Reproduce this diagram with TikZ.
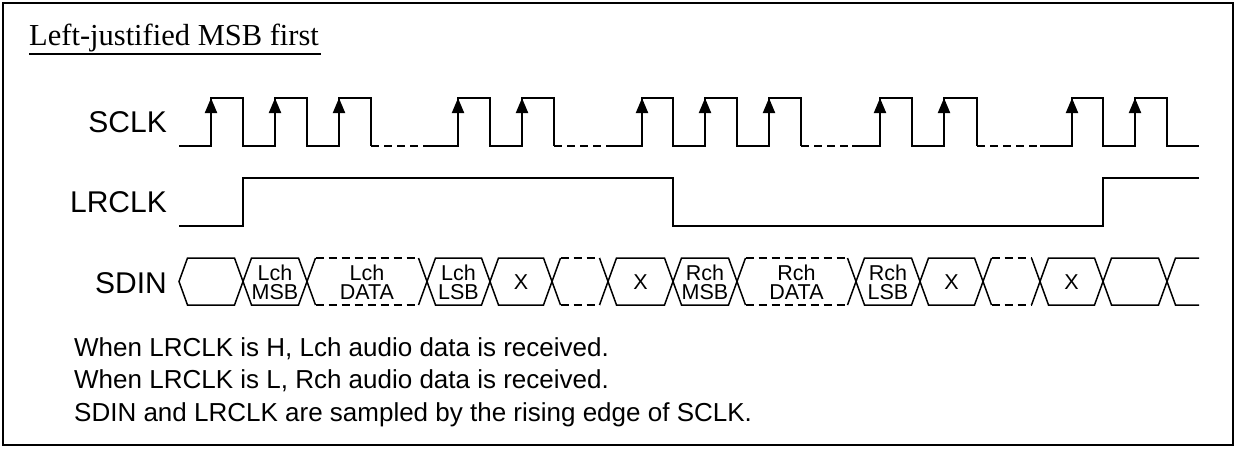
\documentclass[tikz,border=0pt]{standalone}
\usepackage{fontspec}
\setmainfont{Liberation Serif}
\setsansfont{Liberation Sans}
\usetikzlibrary{arrows.meta}
\usetikzlibrary{decorations.markings}
\tikzset{up/.style = {decoration={markings,
                                  mark=at position 1 with {\arrow{Triangle[width=12pt,length=15pt]}}},
                      postaction={decorate}}}
\tikzset{clk/.style = {line width=2pt}}
\tikzset{bus/.style = {line width=1.5pt}}
\tikzset{gap/.style = {dash pattern=on 8pt off 5pt}}
\tikzset{sig/.style = {anchor=east, inner sep=0, font=\sffamily\fontsize{30}{36}\selectfont}}
\tikzset{cell/.style = {inner sep=0, align=center, font=\sffamily\fontsize{21.5}{19}\selectfont}}
\tikzset{note/.style = {anchor=base west, inner sep=0, font=\sffamily\fontsize{26}{31}\selectfont}}

\begin{document}
\begin{tikzpicture}[x=1pt, y=-1pt]
    \useasboundingbox (0,0) rectangle (1236,448);
    \draw [line width=2pt] (3,3) rectangle (1233,445);

    \node [anchor=base west, inner sep=0, font=\rmfamily\fontsize{30.5}{36}\selectfont] (title) at (29,45) {Left-justified MSB first};
    \draw [line width=1.2pt] ([yshift=-9pt]title.base west) -- ([xshift=2pt, yshift=-9pt]title.base east);

    \node [sig] (sclk) at (167,122) {SCLK};
    \node [sig] (lrclk) at (167,202) {LRCLK};
    \node [sig] (sdin) at (167,283) {SDIN};

    % SCLK
    \draw [clk] (179,146) -- (211,146) -- (211,98) -- (243,98) -- (243,146) -- (275,146) -- (275,98) -- (307,98)
        -- (307,146) -- (339,146) -- (339,98) -- (371,98) -- (371,146);
    \draw [clk, gap] (371,146) -- (427,146);
    \draw [clk] (427,146) -- (458,146) -- (458,98) -- (490,98) -- (490,146) -- (522,146) -- (522,98) -- (554,98) -- (554,146);
    \draw [clk, gap] (554,146) -- (610,146);
    \draw [clk] (610,146) -- (642,146) -- (642,98) -- (673,98) -- (673,146) -- (705,146) -- (705,98) -- (737,98)
        -- (737,146) -- (769,146) -- (769,98) -- (801,98) -- (801,146);
    \draw [clk, gap] (801,146) -- (852,146);
    \draw [clk] (852,146) -- (880,146) -- (880,98) -- (912,98) -- (912,146) -- (944,146) -- (944,98) -- (977,98) -- (977,146);
    \draw [clk, gap] (977,146) -- (1040,146);
    \draw [clk] (1040,146) -- (1072,146) -- (1072,98) -- (1103,98) -- (1103,146) -- (1135,146) -- (1135,98) -- (1167,98)
        -- (1167,146) -- (1199,146);

    \draw [clk, up] (211,146) -- (211,98);
    \draw [clk, up] (275,146) -- (275,98);
    \draw [clk, up] (339,146) -- (339,98);
    \draw [clk, up] (458,146) -- (458,98);
    \draw [clk, up] (522,146) -- (522,98);
    \draw [clk, up] (642,146) -- (642,98);
    \draw [clk, up] (705,146) -- (705,98);
    \draw [clk, up] (769,146) -- (769,98);
    \draw [clk, up] (880,146) -- (880,98);
    \draw [clk, up] (944,146) -- (944,98);
    \draw [clk, up] (1072,146) -- (1072,98);
    \draw [clk, up] (1135,146) -- (1135,98);

    % LRCLK
    \draw [clk] (179,226) -- (243,226) -- (243,178) -- (673,178) -- (673,226) -- (1103,226) -- (1103,178) -- (1199,178);

    % SDIN
    \foreach \a/\b/\txt in {179/243/{}, 243/307/{Lch\\MSB}, 427/490/{Lch\\LSB}, 490/552/X, 608/673/X,
                            673/737/{Rch\\MSB}, 856/920/{Rch\\LSB}, 920/983/X, 1040/1103/X, 1103/1167/{}}
    {
        \draw [bus] (\a,281.5) -- ({\a+8.5},258) -- ({\b-8.5},258) -- (\b,281.5) -- ({\b-8.5},305) -- ({\a+8.5},305) -- cycle;
        \node [cell] (d\a) at ({(\a+\b)/2},282) {\txt};
    }
    \foreach \a/\b/\txt in {307/427/{Lch\\DATA}, 552/608/{}, 737/856/{Rch\\DATA}, 983/1040/{}}
    {
        \draw [bus] ({\a+8.5},258) -- (\a,281.5) -- ({\a+8.5},305);
        \draw [bus] ({\b-8.5},258) -- (\b,281.5) -- ({\b-8.5},305);
        \draw [bus, gap] ({\a+8.5},258) -- ({\b-8.5},258);
        \draw [bus, gap] ({\a+8.5},305) -- ({\b-8.5},305);
        \node [cell] (d\a) at ({(\a+\b)/2},282) {\txt};
    }
    \draw [bus] (1199,258) -- (1175.5,258) -- (1167,281.5) -- (1175.5,305) -- (1199,305);

    \node [note] (line1) at (74,356) {When LRCLK is H, Lch audio data is received.};
    \node [note] (line2) at (74,388.5) {When LRCLK is L, Rch audio data is received.};
    \node [note] (line3) at (74,421) {SDIN and LRCLK are sampled by the rising edge of SCLK.};
\end{tikzpicture}
\end{document}
